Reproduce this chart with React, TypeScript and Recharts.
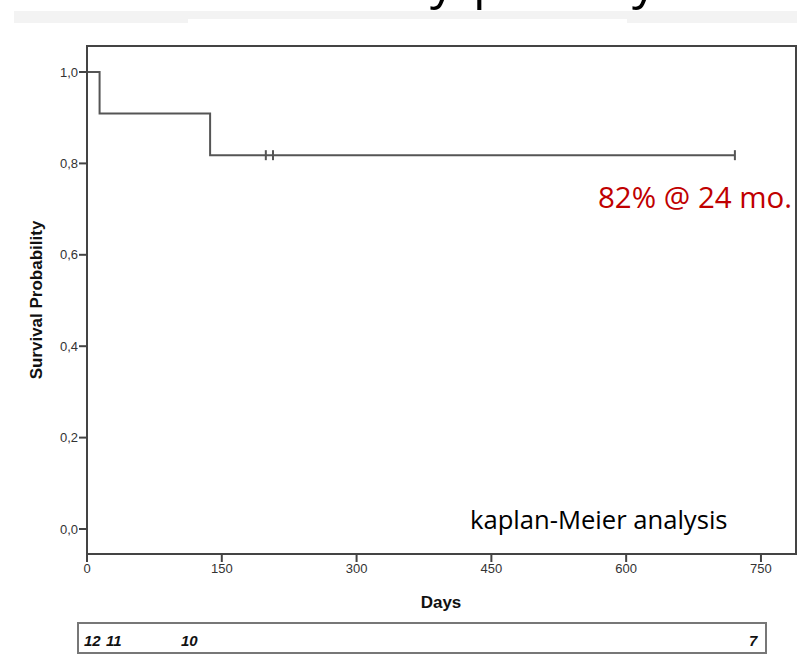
import React from 'react';
import { ComposedChart, Line, Scatter, XAxis, YAxis, ReferenceArea } from 'recharts';

// ---- data ----
const curveDays = [0, 14, 137, 721];
const curveSurvival = [1.0, 0.909, 0.818, 0.818];
const censorDays = [199, 207, 721];
const censorSurvival = [0.818, 0.818, 0.818];
const xTicks = [0, 150, 300, 450, 600, 750];
const yTicks = [0, 0.2, 0.4, 0.6, 0.8, 1.0];
const riskCounts = ['12', '11', '10', '7'];
const titleWords = ['Primary', 'patency'];
const annotationText = '82% @ 24 mo.';
const methodText = 'kaplan-Meier analysis';
const xLabel = 'Days';
const yLabel = 'Survival Probability';

const X_MAX = 789;
const Y_MIN = -0.0547;
const Y_MAX = 1.0569;

const curveData = curveDays.map((d, i) => ({ day: d, s: curveSurvival[i] }));
const censorData = censorDays.map((d, i) => ({ day: d, s: censorSurvival[i] }));

const AXIS = '#444';
const LINE = '#555';
const TICK_FONT = '"Liberation Sans", Arial, sans-serif';

const CensorMark = (props: any) => {
  const { cx, cy } = props;
  if (cx == null || cy == null) return null;
  return <line x1={cx} x2={cx} y1={cy - 5} y2={cy + 5} stroke={LINE} strokeWidth={2} />;
};

const riskX = [84, 106, 181, 749];

export default function App() {
  return (
    <div
      style={{
        position: 'fixed',
        left: 0,
        top: 0,
        width: 797,
        height: 672,
        background: '#fff',
        overflow: 'hidden',
      }}
    >
      <ComposedChart
        width={797}
        height={672}
        margin={{ top: 46, right: 1, bottom: 88, left: 0 }}
        data={curveData}
      >
        <ReferenceArea
          x1={0}
          x2={X_MAX}
          y1={Y_MIN}
          y2={Y_MAX}
          fill="none"
          stroke={AXIS}
          strokeWidth={2}
          ifOverflow="visible"
        />
        <XAxis
          type="number"
          dataKey="day"
          domain={[0, X_MAX]}
          ticks={xTicks}
          allowDataOverflow
          height={30}
          tickSize={8}
          axisLine={{ stroke: AXIS, strokeWidth: 2 }}
          tickLine={{ stroke: AXIS, strokeWidth: 2 }}
          tick={{ fill: '#333', fontSize: 13, fontFamily: TICK_FONT }}
          tickMargin={2}
        />
        <YAxis
          type="number"
          domain={[Y_MIN, Y_MAX]}
          ticks={yTicks}
          allowDataOverflow
          width={87}
          tickSize={8}
          axisLine={{ stroke: AXIS, strokeWidth: 2 }}
          tickLine={{ stroke: AXIS, strokeWidth: 2 }}
          tick={{ fill: '#333', fontSize: 13, fontFamily: TICK_FONT }}
          tickMargin={1}
          tickFormatter={(v: number) => v.toFixed(1).replace('.', ',')}
        />
        <Line
          data={curveData}
          dataKey="s"
          type="stepAfter"
          stroke={LINE}
          strokeWidth={2}
          dot={false}
          activeDot={false}
          isAnimationActive={false}
        />
        <Scatter
          data={censorData}
          dataKey="s"
          shape={CensorMark}
          isAnimationActive={false}
        />
      </ComposedChart>
      <svg
        width={797}
        height={672}
        style={{ position: 'absolute', left: 0, top: 0, pointerEvents: 'none' }}
      >
        {/* faint band under cropped title */}
        <rect x={14} y={11} width={783} height={8} fill="#f3f3f3" />
        <rect x={14} y={19} width={174} height={4} fill="#f3f3f3" />
        <rect x={627} y={19} width={170} height={4} fill="#f3f3f3" />
        {/* cropped title (only descenders visible, as in the reference) */}
        <text x={455} y={-2} textAnchor="end" fontFamily='"Open Sans", sans-serif' fontSize={50} fill="#000">
          {titleWords[0]}
        </text>
        <text x={473} y={-2} textLength={184} fontFamily='"Open Sans", sans-serif' fontSize={50} fill="#000">
          {titleWords[1]}
        </text>
        {/* axis labels */}
        <text
          x={42}
          y={300}
          transform="rotate(-90 42 300)"
          textAnchor="middle"
          fontFamily={TICK_FONT}
          fontWeight="bold"
          fontSize={17}
          fill="#111"
        >
          {yLabel}
        </text>
        <text x={441} y={608} textAnchor="middle" fontFamily={TICK_FONT} fontWeight="bold" fontSize={17} fill="#111">
          {xLabel}
        </text>
        {/* annotations */}
        <text x={598} y={208} fontFamily='"Open Sans", sans-serif' fontSize={29.5} fill="#C00000">
          {annotationText}
        </text>
        <text x={470} y={529} fontFamily='"Open Sans", sans-serif' fontSize={25.6} fill="#000">
          {methodText}
        </text>
        {/* number at risk table */}
        <rect x={78} y={623} width={688} height={30} fill="#fff" stroke="#777" strokeWidth={2} />
        {riskCounts.map((c, i) => (
          <text
            key={i}
            x={riskX[i]}
            y={646}
            fontFamily={TICK_FONT}
            fontWeight="bold"
            fontStyle="italic"
            fontSize={15}
            fill="#111"
          >
            {c}
          </text>
        ))}
      </svg>
    </div>
  );
}
